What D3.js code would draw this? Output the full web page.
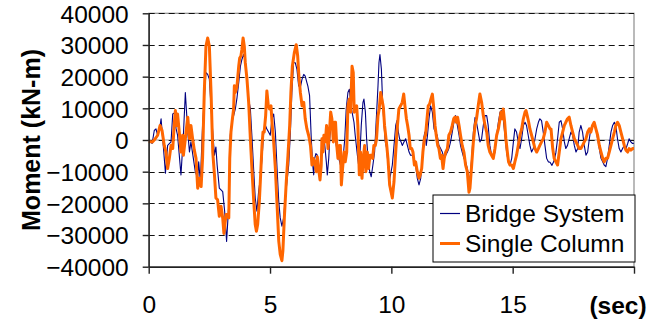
<!DOCTYPE html>
<html><head><meta charset="utf-8">
<script src="https://cdn.jsdelivr.net/npm/d3@7"></script>
<style>
html,body{margin:0;padding:0;background:#fff;}
svg{display:block;font-family:"Liberation Sans",Arial,sans-serif;}
</style></head>
<body>
<svg id="chart" width="656" height="321"></svg>
<script>
// ---- data ----
const yTicks = [-40000,-30000,-20000,-10000,0,10000,20000,30000,40000];
const xTicks = [0,5,10,15,20];
const seriesNames = ["Bridge System","Single Column"];
const seriesColors = ["#000080","#FF6600"];
const xUnit = "(sec)";
const yTitle = "Moment (kN-m)";

// [time (s), moment (kN-m)]
const bridgeSystem = [[0,0],[0.14,-1100],[0.23,3000],[0.30,3500],[0.37,1500],[0.47,4600],[0.51,6700],[0.60,-1700],[0.69,-10500],[0.78,-1700],[0.92,-600],[0.99,8200],[1.06,8500],[1.13,3500],[1.19,1500],[1.33,-11000],[1.43,1500],[1.51,15000],[1.61,2500],[1.68,-3800],[1.74,-600],[1.84,-5800],[1.92,-10000],[2.02,-12100],[2.06,-6900],[2.13,-13100],[2.22,4600],[2.36,21300],[2.43,20700],[2.50,19200],[2.60,6700],[2.71,-4800],[2.77,-2200],[2.82,-7900],[2.91,-15200],[3.05,-16300],[3.13,-22500],[3.21,-32000],
[3.30,-20400],[3.36,1500],[3.43,5600],[3.50,7700],[3.57,9800],[3.64,13400],[3.71,18100],[3.78,23300],[3.84,25400],[3.91,27000],[3.98,25400],[4.05,19200],[4.12,12900],[4.19,9800],[4.26,400],[4.33,-10000],[4.39,-18300],[4.46,-22500],[4.53,-16300],[4.60,-12100],[4.67,-5800],[4.74,2500],[4.81,4600],[4.87,3500],[4.94,2500],[5.01,1500],[5.08,6700],[5.15,8200],[5.22,2500],[5.29,-9000],[5.36,-19400],[5.42,-24600],[5.49,-27200],[5.56,-24600],[5.63,-18300],[5.70,-13100],[5.77,-7900],[5.84,2500],[5.90,15000],[5.97,24400],[6.04,24400],[6.11,22300],[6.18,17100],[6.25,16600],[6.32,19200],[6.39,20700],[6.45,20200],[6.52,18100],[6.56,17000],
[6.63,14000],[6.70,400],[6.76,-7900],[6.80,-11000],[6.84,-5800],[6.89,-4300],[6.95,-4800],[7.00,-9000],[7.06,-10000],[7.11,-4800],[7.18,-1700],[7.25,-1100],[7.32,-6900],[7.36,-11000],[7.42,-5800],[7.47,1500],[7.53,4600],[7.59,3500],[7.66,1500],[7.73,-1700],[7.80,-4800],[7.87,-6900],[7.94,-9000],[8.01,-5800],[8.08,400],[8.14,9800],[8.21,15000],[8.27,16000],[8.32,11900],[8.38,8800],[8.46,5600],[8.51,1500],[8.60,-4800],[8.65,-7900],[8.71,-3800],[8.76,4600],[8.83,11900],[8.87,12900],[8.93,8800],[8.98,400],[9.04,-5800],[9.11,-10000],[9.17,-11600],[9.24,-7900],[9.31,-3800],[9.38,6700],[9.45,17100],[9.49,24400],[9.53,27000],[9.59,22300],[9.64,11900],[9.70,4600],[9.75,-600],[9.81,-2700],[9.86,-7900],[9.93,-12500],
[10.04,-7900],[10.11,-1700],[10.18,4600],[10.23,6100],[10.29,2500],[10.34,400],[10.40,-600],[10.45,-1700],[10.52,-600],[10.59,400],[10.66,-1700],[10.73,-3800],[10.79,-4800],[10.86,-4800],[10.93,-5800],[11.00,-7900],[11.07,-12100],[11.14,-14200],[11.21,-12100],[11.28,-5800],[11.33,400],[11.38,2500],[11.44,-1700],[11.49,1500],[11.55,6700],[11.62,10800],[11.69,8800],[11.76,3500],[11.82,2500],[11.89,1500],[11.96,-1700],[12.03,-2700],[12.10,-3800],[12.17,-5800],[12.24,-4800],[12.31,-3800],[12.37,-2700],[12.44,-600],[12.51,2500],[12.58,5600],[12.65,7700],[12.72,4600],[12.79,1500],[12.85,-1700],[12.92,-3800],[12.99,-5800],[13.06,-6900],[13.13,-9000],[13.20,-12100],
[13.24,-12500],[13.31,-5800],[13.38,2500],[13.45,7200],[13.51,5600],[13.58,2500],[13.65,-600],[13.72,400],[13.79,4600],[13.86,7700],[13.93,7700],[13.99,4600],[14.06,-1700],[14.13,-4800],[14.20,-5800],[14.27,-3800],[14.34,1500],[14.41,5600],[14.48,8800],[14.54,9300],[14.61,6700],[14.68,1500],[14.75,-3800],[14.82,-6900],[14.89,-7900],[14.96,-5800],[15.03,-600],[15.09,3500],[15.16,2500],[15.23,-600],[15.30,-2700],[15.37,400],[15.44,4600],[15.51,5600],[15.57,4600],[15.64,1500],[15.71,-1700],[15.78,-3800],[15.85,-2700],[15.92,400],[15.99,3500],[16.06,5600],[16.12,6700],[16.19,6100],[16.26,2500],[16.33,-1700],[16.40,-5800],[16.47,-6900],[16.54,-7000],
[16.62,-8000],[16.71,-6500],[16.78,-4000],[16.85,400],[16.92,5600],[16.99,6100],[17.06,3500],[17.13,-600],[17.19,-2700],[17.26,-1700],[17.33,400],[17.40,2500],[17.47,1500],[17.54,-1700],[17.61,-3800],[17.68,-2700],[17.74,2500],[17.81,4600],[17.88,2500],[17.95,-1700],[18.02,-4800],[18.09,-3800],[18.16,400],[18.22,3500],[18.29,4600],[18.36,4600],[18.43,3500],[18.50,400],[18.57,-2700],[18.64,-5800],[18.71,-6900],[18.77,-7900],[18.84,-8400],[18.91,-5800],[18.98,-1700],[19.05,2500],[19.12,4600],[19.19,5600],[19.25,4600],[19.32,400],[19.39,-2700],[19.46,-3800],[19.53,-2700],[19.60,-1700],[19.67,-2700],[19.74,-1100],[19.80,400],[19.87,-600],[19.94,-1100],[20.00,-1000]];

const singleColumn = [[0,-500],[0.16,-600],[0.27,400],[0.37,1500],[0.47,4600],[0.55,3000],[0.64,-1700],[0.71,-3800],[0.78,-9000],[0.85,-5800],[0.92,-1700],[0.99,-2700],[1.06,5600],[1.10,9300],[1.15,4600],[1.19,8200],[1.26,2500],[1.33,-3800],[1.40,1500],[1.43,-4800],[1.51,400],[1.57,4600],[1.61,7200],[1.68,400],[1.74,4600],[1.81,400],[1.88,-3200],[1.95,-5800],[2.02,-15200],[2.09,-12100],[2.16,-14700],[2.22,-5800],[2.29,15000],[2.36,29600],[2.43,32200],[2.50,29600],[2.57,15000],[2.64,-3800],[2.71,-11000],[2.77,-18300],[2.84,-18900],[2.91,-24100],[2.98,-20900],[3.05,-24600],[3.10,-29500],[3.15,-26000],[3.19,-23500],[3.23,-23500],[3.30,-24600],[3.34,-5800],[3.39,2500],[3.45,6700],[3.50,9800],[3.53,17100],[3.57,15000],[3.64,17100],[3.71,23300],[3.75,25900],[3.80,26500],[3.84,28600],[3.89,32200],[3.94,29600],[3.98,24400],[4.05,19200],[4.12,11900],[4.19,400],[4.26,-10000],[4.33,-19400],[4.39,-26700],[4.44,-28800],[4.49,-26700],[4.56,-19400],[4.60,-13100],[4.67,-1700],[4.71,2500],[4.76,2500],[4.82,7700],[4.87,15500],[4.93,10800],[4.98,9800],[5.04,10800],[5.09,4600],[5.15,-600],[5.22,-9000],[5.29,-20400],[5.36,-31900],[5.42,-36100],[5.49,-38100],[5.53,-35000],[5.59,-24600],[5.67,-13100],[5.74,-4800],[5.81,4600],[5.86,15000],[5.92,23300],[6.00,27500],[6.08,30100],[6.14,26500],[6.19,20200],[6.25,15000],[6.32,10800],[6.39,11900],[6.45,6700],[6.52,3500],[6.59,1500],[6.63,0],[6.67,-2000],[6.73,-7900],[6.78,-5800],[6.84,-6900],[6.91,-10000],[6.95,-5300],[7.00,-9000],[7.06,-12600],[7.11,-7900],[7.14,400],[7.18,-3800],[7.22,1500],[7.28,-600],[7.33,4600],[7.39,-2700],[7.44,1500],[7.50,8800],[7.55,6700],[7.61,-600],[7.66,5600],[7.70,5600],[7.75,-1700],[7.80,-5800],[7.86,-1700],[7.90,-1700],[7.94,-14200],[7.99,-9000],[8.05,-3800],[8.10,-6900],[8.16,-3800],[8.21,10800],[8.27,12900],[8.32,8800],[8.38,23300],[8.43,21300],[8.47,8800],[8.51,9800],[8.57,10800],[8.62,4600],[8.68,-11000],[8.73,-3800],[8.79,-12100],[8.84,-5800],[8.90,-1700],[8.95,-10000],[9.01,-3800],[9.06,-9000],[9.12,-4800],[9.17,-4800],[9.23,-5800],[9.28,-1700],[9.34,-1700],[9.39,400],[9.45,7700],[9.50,9800],[9.56,15000],[9.61,12900],[9.67,10300],[9.72,4600],[9.81,-1700],[9.86,-5800],[9.93,-14200],[10.04,-18300],[10.11,-13100],[10.18,-3800],[10.24,3500],[10.31,9800],[10.38,10800],[10.45,11900],[10.51,14500],[10.56,10800],[10.62,6700],[10.67,4600],[10.73,1500],[10.78,-2700],[10.84,-2700],[10.89,-3800],[10.95,-7900],[11.00,-6900],[11.07,-10000],[11.14,-12100],[11.19,-11000],[11.25,-9000],[11.30,-3800],[11.36,400],[11.41,1500],[11.47,6700],[11.52,10800],[11.58,11400],[11.63,12900],[11.69,14500],[11.74,10800],[11.80,4600],[11.85,1500],[11.91,-1700],[11.96,-2700],[12.02,-5800],[12.07,-4800],[12.13,-9000],[12.18,-5800],[12.24,-3800],[12.31,-2700],[12.37,1500],[12.44,2500],[12.51,4600],[12.57,6700],[12.62,7200],[12.68,5600],[12.73,7200],[12.79,4600],[12.85,1500],[12.92,-1700],[12.99,-3800],[13.06,-7900],[13.13,-10000],[13.20,-16500],[13.24,-15200],[13.31,-7900],[13.38,-600],[13.45,4600],[13.51,6700],[13.58,10800],[13.65,14500],[13.72,11900],[13.79,7700],[13.86,4600],[13.93,2500],[13.99,-1700],[14.06,-3800],[14.13,-4800],[14.20,-5800],[14.27,-2700],[14.34,1500],[14.41,3500],[14.48,6700],[14.52,8800],[14.56,6700],[14.61,9800],[14.67,5600],[14.72,400],[14.78,-3800],[14.83,-6900],[14.89,-7900],[14.96,-7900],[15.03,-9000],[15.09,-6900],[15.16,-4800],[15.23,-1700],[15.30,1500],[15.37,3500],[15.44,6700],[15.51,8800],[15.55,9300],[15.60,7700],[15.66,5600],[15.71,3500],[15.78,1500],[15.85,-600],[15.92,-2700],[15.99,-3800],[16.06,-2700],[16.12,-1700],[16.19,-600],[16.26,400],[16.33,2500],[16.40,5600],[16.47,4600],[16.54,3500],[16.58,3500],[16.65,-2700],[16.71,-5800],[16.78,-6900],[16.85,-7900],[16.92,-3800],[16.99,400],[17.06,2500],[17.13,4600],[17.19,5600],[17.26,6700],[17.33,7200],[17.40,4600],[17.47,2500],[17.54,400],[17.61,-600],[17.68,-1700],[17.74,-2700],[17.81,-2700],[17.88,-1700],[17.95,-600],[18.02,400],[18.09,2500],[18.16,3500],[18.22,2500],[18.29,4600],[18.36,5600],[18.43,3500],[18.50,1500],[18.57,-1700],[18.64,-3800],[18.71,-5800],[18.77,-6900],[18.84,-5800],[18.91,-5800],[18.98,-3800],[19.05,-1700],[19.12,400],[19.19,2500],[19.25,4600],[19.32,5600],[19.39,4600],[19.46,2500],[19.53,400],[19.60,-1700],[19.67,-3200],[19.74,-3800],[19.80,-2700],[19.87,-3200],[19.94,-2700],[20.00,-2700]];

// ---- drawing ----
const svg = d3.select("#chart");
const L = 148.7, R = 634, T = 13.3, B = 266.7;
const x = d3.scaleLinear().domain([0,20]).range([L,R]);
const y = d3.scaleLinear().domain([-40000,40000]).range([B,T]);
const FS = 24.5;

// plot border (grey)
svg.append("rect").attr("x",L).attr("y",T).attr("width",R-L).attr("height",B-T)
  .attr("fill","none").attr("stroke","#8c8c8c").attr("stroke-width",1.2);

// zero line solid grey underlay
svg.append("line").attr("x1",L).attr("x2",R).attr("y1",y(0)).attr("y2",y(0))
  .attr("stroke","#9a9a9a").attr("stroke-width",1.2);

// dashed gridlines
svg.append("g").selectAll("line").data(yTicks.filter(v=>v>-40000)).join("line")
  .attr("x1",L).attr("x2",R).attr("y1",d=>Math.round(y(d))+0.5).attr("y2",d=>Math.round(y(d))+0.5)
  .attr("stroke","#111").attr("stroke-width",1).attr("stroke-dasharray","6,4");

// series
const line = d3.line().x(d=>x(d[0])).y(d=>y(d[1]));
svg.append("path").datum(bridgeSystem).attr("d",line).attr("fill","none")
  .attr("stroke",seriesColors[0]).attr("stroke-width",1.1).attr("stroke-linejoin","round");
svg.append("path").datum(singleColumn).attr("d",line).attr("fill","none")
  .attr("stroke",seriesColors[1]).attr("stroke-width",3).attr("stroke-linejoin","round");

// axes
const yAxis = svg.append("g").attr("transform",`translate(${L},0)`)
  .call(d3.axisLeft(y).tickValues(yTicks).tickSize(6).tickSizeOuter(0).tickPadding(14).tickFormat(d3.format("d")));
yAxis.selectAll("text").attr("font-size",FS).attr("fill","#000").attr("dy",null).attr("y",8.7)
  .attr("font-family",'"Liberation Sans",Arial,sans-serif');
yAxis.selectAll("line,path").attr("stroke","#222").attr("stroke-width",1.4);

const xAxis = svg.append("g").attr("transform",`translate(0,${B})`)
  .call(d3.axisBottom(x).tickValues(xTicks).tickSize(7).tickSizeOuter(0).tickFormat(d=>d===20?"":d3.format("d")(d)));
xAxis.selectAll("text").attr("font-size",FS).attr("fill","#000").attr("dy",null).attr("y",46.5)
  .attr("font-family",'"Liberation Sans",Arial,sans-serif');
xAxis.selectAll("line,path").attr("stroke","#222").attr("stroke-width",1.4);

// axis unit & title
svg.append("text").attr("x",618).attr("y",313.5).attr("text-anchor","middle")
  .attr("font-size",FS).attr("font-weight","bold").text(xUnit);
svg.append("text").attr("transform","translate(40,140) rotate(-90)").attr("text-anchor","middle")
  .attr("font-size",25).attr("font-weight","bold").text(yTitle);

// legend
const lg = svg.append("g");
lg.append("rect").attr("x",433).attr("y",195).attr("width",202).attr("height",67)
  .attr("fill","#fff").attr("stroke","#000").attr("stroke-width",1);
seriesNames.forEach((n,i)=>{
  const cy = 213.5 + i*30;
  lg.append("line").attr("x1",440).attr("x2",460).attr("y1",cy).attr("y2",cy)
    .attr("stroke",seriesColors[i]).attr("stroke-width",i===0?1.2:3);
  lg.append("text").attr("x",465).attr("y",cy+8.7).attr("font-size",FS).attr("fill","#000").text(n);
});
</script>
</body></html>
